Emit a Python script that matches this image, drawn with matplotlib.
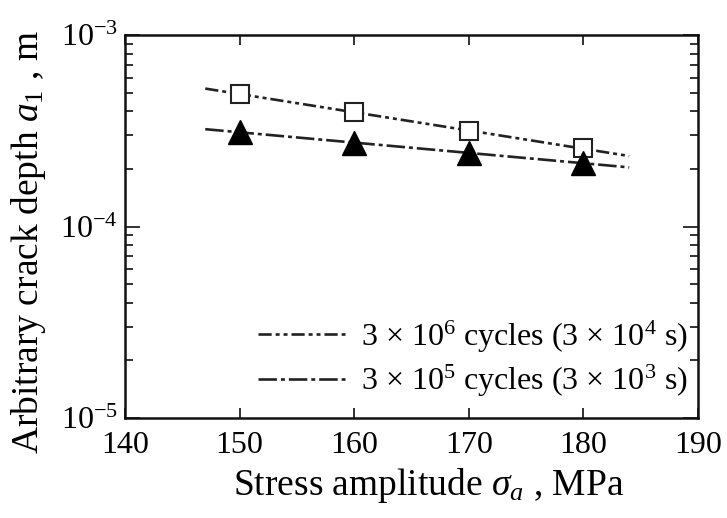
import numpy as np
import matplotlib
matplotlib.use('Agg')
import matplotlib.pyplot as plt
from matplotlib.ticker import FixedLocator, LogLocator, NullFormatter

plt.rcParams['font.family'] = ['Liberation Serif', 'DejaVu Serif']
plt.rcParams['mathtext.fontset'] = 'custom'
plt.rcParams['mathtext.rm'] = 'Liberation Serif'
plt.rcParams['mathtext.it'] = 'Liberation Serif:italic'

# stress amplitude (MPa)
stress = [150, 160, 170, 180]
# crack depth a1 (m)
depth_3e6 = [4.95e-4, 3.95e-4, 3.15e-4, 2.57e-4]   # squares
depth_3e5 = [3.12e-4, 2.74e-4, 2.42e-4, 2.15e-4]   # triangles
fit_range = [147, 184]

labels = [r'3 × 10$^{6}$ cycles (3 × 10$^{4}$ s)',
          r'3 × 10$^{5}$ cycles (3 × 10$^{3}$ s)']

fig = plt.figure(figsize=(7.27, 5.18), dpi=100)
ax = fig.add_axes([0.172, 0.193, 0.788, 0.739])

xs = np.linspace(fit_range[0], fit_range[1], 50)

# fitted lines (log-linear)
p1 = np.polyfit(stress, np.log10(depth_3e6), 1)
p2 = np.polyfit(stress, np.log10(depth_3e5), 1)
ax.plot(xs, 10 ** np.polyval(p1, xs), color='#222222', lw=1.9,
        dashes=(5, 1.5, 1.5, 1.5, 1.5, 1.5), label=labels[0])
ax.plot(xs, 10 ** np.polyval(p2, xs), color='#222222', lw=1.9,
        dashes=(7, 1.5, 1.5, 1.5), label=labels[1])

ax.plot(stress, depth_3e6, 's', ms=13.5, mfc='white', mec='#222222', mew=1.5,
        ls='none', zorder=3)
ax.plot(stress, depth_3e5, '^', ms=17, mfc='black', mec='black', mew=1,
        ls='none', zorder=3)

ax.set_yscale('log')
ax.set_xlim(140, 190)
ax.set_ylim(1e-5, 1e-3)
ax.set_xticks([140, 150, 160, 170, 180, 190])
ax.yaxis.set_major_locator(FixedLocator([1e-5, 1e-4, 1e-3]))
ax.yaxis.set_minor_locator(LogLocator(base=10, subs=np.arange(2, 10)))
ax.yaxis.set_minor_formatter(NullFormatter())
ax.set_yticklabels([r'10$^{-5}$', r'10$^{-4}$', r'10$^{-3}$'])

ax.tick_params(which='both', direction='in', top=True, right=True,
               labelsize=23, width=1.3, color='#222222')
ax.tick_params(which='major', length=11)
ax.tick_params(which='minor', length=6)
ax.tick_params(axis='x', which='major', length=7, pad=9)
ax.tick_params(axis='y', which='major', pad=5)
for s in ax.spines.values():
    s.set_linewidth(1.8)
    s.set_color('#111111')

ax.set_xlabel(r'Stress amplitude $\mathit{\sigma_a}$ , MPa', fontsize=27)
ax.set_ylabel(r'Arbitrary crack depth $\mathit{a_1}$ , m', fontsize=27)
ax.xaxis.set_label_coords(0.53, -0.125)
ax.yaxis.set_label_coords(-0.135, 0.46)

ax.legend(loc='lower right', frameon=False, fontsize=23, handlelength=2.7,
          handletextpad=0.5, labelspacing=0.25, borderaxespad=0.2,
          bbox_to_anchor=(1.015, 0.0))

fig.savefig('out.png', dpi=100)
